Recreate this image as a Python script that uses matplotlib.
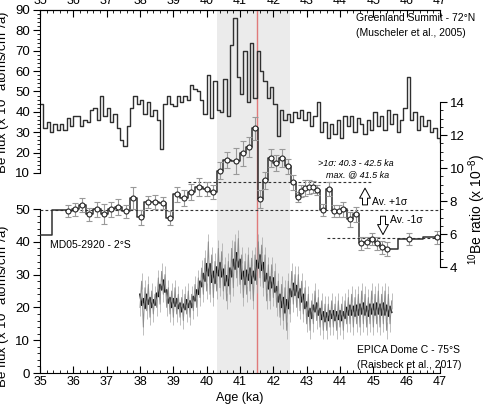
import numpy as np
import pandas as pd
import matplotlib
matplotlib.use("Agg")
import matplotlib.pyplot as plt
from matplotlib.ticker import MultipleLocator, FixedLocator

plt.rcParams['font.family'] = ['Liberation Sans', 'DejaVu Sans']
plt.rcParams['mathtext.fontset'] = 'custom'
plt.rcParams['mathtext.rm'] = 'Liberation Sans'
plt.rcParams['mathtext.it'] = 'Liberation Sans:italic'

# --- Greenland Summit 10Be flux (steps of 0.1 ka) ---
greenland_age = np.round(np.arange(35.0, 47.01, 0.1), 2)
greenland_flux = [
    44, 32, 35, 30, 34, 31, 34, 31, 37, 33,
    38, 38, 33, 36, 35, 41, 42, 36, 48, 38,
    42, 35, 39, 32, 26, 23, 33, 42, 48, 44,
    46, 39, 45, 38, 41, 36, 22, 44, 48, 44,
    43, 48, 45, 48, 46, 53, 51, 50, 46, 39,
    58, 37, 55, 41, 40, 56, 38, 73, 86, 57,
    49, 70, 45, 74, 47, 70, 60, 55, 47, 52,
    44, 28, 41, 36, 39, 35, 40, 37, 41, 36,
    40, 33, 38, 45, 30, 35, 27, 34, 29, 36,
    27, 38, 33, 38, 30, 37, 34, 29, 36, 31,
    40, 33, 38, 31, 41, 34, 39, 30, 36, 42,
    57, 36, 40, 31, 38, 33, 36, 30, 32, 27,
    25,
]

# --- MD05-2920 10Be ratio ---
md_age = [35.85, 36.05, 36.27, 36.48, 36.70, 36.93, 37.13, 37.35, 37.58, 37.80,
          38.03, 38.23, 38.45, 38.68, 38.90, 39.10, 39.32, 39.53, 39.77, 40.00,
          40.20, 40.40, 40.60, 40.88, 41.10, 41.28, 41.45, 41.60, 41.75, 41.92,
          42.08, 42.27, 42.43, 42.60, 42.74, 42.84, 42.96, 43.08, 43.20, 43.31,
          43.50, 43.68, 43.83, 43.96, 44.10, 44.30, 44.48, 44.63, 44.80, 44.97,
          45.10, 45.27, 45.40, 46.07, 46.90]
md_ratio = [7.39, 7.50, 7.76, 7.20, 7.50, 7.20, 7.50, 7.64, 7.39, 8.18,
            7.03, 7.94, 7.94, 7.88, 6.97, 8.42, 8.18, 8.55, 8.85, 8.73,
            8.55, 9.85, 10.48, 10.42, 10.90, 11.30, 12.40, 8.15, 9.25, 10.60,
            10.30, 10.60, 10.10, 9.15, 8.22, 8.60, 8.80, 8.85, 8.85, 8.67,
            7.45, 8.73, 7.40, 7.40, 7.50, 6.90, 7.20, 5.45, 5.50, 5.70,
            5.45, 5.20, 5.10, 5.70, 5.80]
md_err = [0.35, 0.4, 0.4, 0.4, 0.45, 0.6, 0.45, 0.5, 0.4, 0.65,
          0.45, 0.35, 0.4, 0.35, 0.45, 0.45, 0.5, 0.5, 0.55, 0.45,
          0.45, 0.5, 0.5, 0.8, 0.75, 0.6, 0.7, 0.55, 0.5, 0.55,
          0.5, 0.55, 0.45, 0.45, 0.3, 0.35, 0.5, 0.45, 0.35, 0.3,
          0.35, 0.45, 0.35, 0.35, 0.45, 0.45, 0.45, 0.4, 0.35, 0.35,
          0.4, 0.4, 0.4, 0.35, 0.4]
# step line end pieces (no markers)
md_start_age = [35.0, 35.7]
md_start_ratio = [5.93, 7.45]
md_end_age = [47.0]
md_end_ratio = [5.80]

md_avg = 7.45
md_plus = 9.15
md_minus = 5.75

# --- EPICA Dome C 10Be flux (0.05 ka) ---
epica_age = np.round(np.arange(38.0, 45.551, 0.05), 2)
epica_flux = [
    20, 28, 14, 26, 19, 27, 17, 25, 18, 24,
    20, 29, 21, 31, 24, 30, 20, 26, 18, 25,
    17, 26, 18, 24, 17, 23, 16, 24, 18, 25,
    17, 24, 19, 27, 20, 29, 23, 32, 24, 35,
    25, 40, 24, 36, 23, 34, 25, 38, 26, 37,
    25, 33, 22, 34, 24, 38, 26, 40, 29, 41,
    27, 36, 23, 34, 24, 36, 25, 35, 22, 36,
    27, 40, 29, 39, 26, 36, 22, 33, 22, 33,
    23, 31, 20, 28, 17, 27, 16, 26, 13, 28,
    18, 31, 21, 30, 20, 30, 19, 28, 18, 26,
    15, 24, 13, 22, 15, 25, 16, 23, 14, 22,
    13, 21, 13, 21, 14, 22, 14, 21, 13, 22,
    14, 21, 13, 22, 15, 23, 15, 24, 14, 23,
    15, 24, 14, 25, 15, 24, 14, 23, 15, 25,
    14, 24, 15, 25, 14, 24, 15, 25, 13, 24,
    15, 22,
]
epica_err = 2.5
epica_smooth = pd.Series(epica_flux).rolling(3, center=True, min_periods=1).mean()

band = (40.3, 42.5)
max_age = 41.5

# pixel geometry of the reference (484 x 412)
W, H = 484, 412
x0, x1 = 40, 440
y_top, y_bot = 10, 373

fig = plt.figure(figsize=(W / 100, H / 100), dpi=100)
ax = fig.add_axes([x0 / W, (H - y_bot) / H, (x1 - x0) / W, (y_bot - y_top) / H])
ax_e = ax.twinx()
ax_r = ax.twinx()

ax.axvspan(*band, color='#ebebeb', lw=0, zorder=0)
ax.axvline(max_age, color='#e07a7a', lw=1.0, zorder=1)

# Greenland
ax.plot(greenland_age, greenland_flux, drawstyle='steps-post', color='#303030', lw=1.0, zorder=2)

# EPICA
ax_e.errorbar(epica_age, epica_flux, yerr=epica_err, color='#8c8c8c', lw=0.7,
              ecolor='#a5a5a5', elinewidth=0.5, capsize=0)
ax_e.plot(epica_age, epica_smooth, color='#111111', lw=1.2)

# MD05-2920
step_age = md_start_age + md_age + md_end_age
step_ratio = md_start_ratio + md_ratio + md_end_ratio
dash = (0, (2.5, 2))
ax_r.hlines(md_avg, 35, 47, colors='#333333', linestyles=dash, lw=0.8)
ax_r.hlines(md_plus, 39.45, 44.95, colors='#333333', linestyles=dash, lw=0.8)
ax_r.hlines(md_minus, 43.6, 46.95, colors='#333333', linestyles=dash, lw=0.8)
ax_r.plot(step_age, step_ratio, drawstyle='steps-mid', color='#303030', lw=1.1)
ax_r.errorbar(md_age, md_ratio, yerr=md_err, fmt='none', ecolor='#999999',
              elinewidth=0.8, capsize=2.2, capthick=0.8)
ax_r.plot(md_age, md_ratio, 'o', ms=3.6, mfc='white', mec='#222222', mew=0.8)

# arrows
arrow_kw = dict(arrowstyle='simple,head_width=0.65,head_length=0.6,tail_width=0.3',
                fc='white', ec='black', lw=0.7, mutation_scale=12)
ax_r.annotate('', xy=(44.75, 8.95), xytext=(44.75, 7.6), arrowprops=arrow_kw)
ax_r.annotate('', xy=(45.29, 5.8), xytext=(45.29, 7.25), arrowprops=arrow_kw)
ax_r.text(44.95, 7.95, 'Av. +1σ', fontsize=7.5, ha='left', va='center')
ax_r.text(45.5, 6.85, 'Av. -1σ', fontsize=7.5, ha='left', va='center')
ax_r.text(44.48, 10.3, '>1σ: 40.3 - 42.5 ka', fontsize=6.5, style='italic', ha='center', va='center')
ax_r.text(44.54, 9.6, 'max. @ 41.5 ka', fontsize=6.5, style='italic', ha='center', va='center')
ax_r.text(35.3, 5.33, 'MD05-2920 - 2°S', fontsize=7.5, ha='left', va='center')

ax.text(0.79, 0.978, 'Greenland Summit - 72°N', transform=ax.transAxes, fontsize=7.5, va='center')
ax.text(0.79, 0.937, '(Muscheler et al., 2005)', transform=ax.transAxes, fontsize=7.5, va='center')
ax.text(0.7925, 0.063, 'EPICA Dome C - 75°S', transform=ax.transAxes, fontsize=7.5, va='center')
ax.text(0.7925, 0.022, '(Raisbeck et al., 2017)', transform=ax.transAxes, fontsize=7.5, va='center')

# spines
for a in (ax_e, ax_r):
    a.spines['top'].set_visible(False)
    a.spines['bottom'].set_visible(False)
ax.spines['right'].set_visible(False)
ax.spines['left'].set_bounds(10, 90)
ax_e.spines['right'].set_visible(False)
ax_e.spines['left'].set_visible(True)
ax_e.spines['left'].set_bounds(0, 50)
ax_e.yaxis.set_ticks_position('left')
ax_e.yaxis.set_label_position('left')
ax_r.spines['left'].set_visible(False)
ax_r.spines['right'].set_bounds(4, 14)

# ticks: bottom on the main axes, top on a secondary axis (labels partly cut off)
ax.set_xticks(range(35, 48))
ax.xaxis.set_minor_locator(MultipleLocator(0.2))
ax.tick_params(axis='x', which='both', direction='in', top=False, labelsize=9, pad=2)
ax.tick_params(axis='x', which='major', length=5)
ax.tick_params(axis='x', which='minor', length=2.5)
sec = ax.secondary_xaxis('top')
sec.set_xticks(range(35, 48))
sec.xaxis.set_minor_locator(MultipleLocator(0.2))
sec.tick_params(axis='x', which='both', direction='in', labelsize=9, pad=2.5)
sec.tick_params(axis='x', which='major', length=5)
sec.tick_params(axis='x', which='minor', length=2.5)

ax.set_yticks(range(10, 91, 10))
ax_e.set_yticks(range(0, 51, 10))
ax_r.set_yticks(range(4, 15, 2))
ax.yaxis.set_minor_locator(FixedLocator(np.arange(10, 90.1, 2)))
ax_e.yaxis.set_minor_locator(FixedLocator(np.arange(0, 50.1, 2)))
ax_r.yaxis.set_minor_locator(FixedLocator(np.arange(4, 14.01, 0.5)))
for a in (ax, ax_e, ax_r):
    a.tick_params(axis='y', which='both', direction='out', labelsize=9.5, pad=2)
    a.tick_params(axis='y', which='major', length=5)
    a.tick_params(axis='y', which='minor', length=2.5)

ax.set_xlim(35, 47)
ax.set_ylim(-88.2, 90)
ax_e.set_ylim(0, 110.7)
ax_r.set_ylim(-2.42, 19.58)

ax.set_xlabel('Age (ka)', fontsize=9, labelpad=3)
ax.set_ylabel('$^{10}$Be flux (x 10$^4$ atoms/cm$^2$/a)', fontsize=9.5)
ax.yaxis.set_label_coords(-0.07, 0.76)
ax_e.set_ylabel('$^{10}$Be flux (x 10$^4$ atoms/cm$^2$/a)', fontsize=9.5)
ax_e.yaxis.set_label_coords(-0.07, 0.17)
ax_r.set_ylabel('$^{10}$Be ratio (x 10$^{-8}$)', fontsize=10)
ax_r.yaxis.set_label_coords(1.065, 0.45)

fig.savefig('out.png', dpi=100)
